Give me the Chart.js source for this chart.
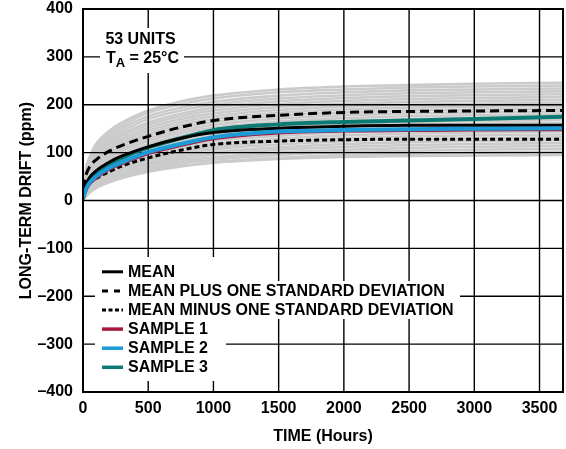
<!DOCTYPE html>
<html>
<head>
<meta charset="utf-8">
<script src="https://cdn.jsdelivr.net/npm/chart.js@4/dist/chart.umd.min.js"></script>
<style>
html,body{margin:0;padding:0;background:#fff;}
#wrap{width:566px;height:449px;}
</style>
</head>
<body>
<div id="wrap"><canvas id="c" width="566" height="449"></canvas></div>
<script>
// ---- data ----
const times = [0, 25, 50, 100, 200, 300, 500, 750, 1000, 1500, 2000, 2500, 3000, 3680];
const meanDrift  = [10, 35, 48, 62, 80, 93, 112, 130, 142, 151, 155, 157, 157, 157];
const plusSD     = [25, 55, 70, 85, 103, 115, 134, 153, 167, 178, 184, 186, 187, 188];
const minusSD    = [5, 25, 35, 46, 60, 72, 89, 105, 117, 124, 127, 128, 128, 128];
const sample1    = [3, 22, 34, 47, 65, 77, 98, 115, 129, 141, 145, 146, 147, 148];
const sample2    = [5, 25, 37, 50, 68, 80, 101, 118, 132, 144, 147, 149, 150, 151];
const sample3    = [8, 30, 42, 57, 75, 89, 111, 130, 147, 159, 164, 167, 170, 175];
const grayUnits = [
  [20, 70, 90, 118, 145, 163, 188, 207, 219, 232, 238, 241, 244, 246],
  [18, 65, 86, 112, 140, 157, 183, 201, 213, 226, 232, 236, 238, 240],
  [15, 60, 80, 106, 134, 151, 176, 194, 206, 219, 226, 230, 232, 234],
  [15, 56, 76, 101, 128, 145, 170, 188, 200, 213, 220, 224, 226, 228],
  [12, 52, 72, 96, 122, 139, 163, 181, 194, 207, 214, 218, 220, 222],
  [12, 50, 68, 92, 118, 134, 158, 176, 188, 201, 208, 212, 214, 216],
  [10, 46, 64, 87, 112, 128, 152, 170, 182, 195, 202, 206, 208, 210],
  [10, 44, 61, 83, 107, 123, 146, 164, 176, 189, 196, 200, 202, 204],
  [8, 41, 58, 79, 102, 118, 140, 158, 170, 183, 190, 194, 196, 198],
  [8, 39, 55, 75, 98, 113, 135, 152, 164, 177, 184, 188, 190, 192],
  [7, 37, 52, 71, 93, 108, 129, 146, 158, 171, 178, 182, 184, 186],
  [7, 35, 49, 68, 89, 103, 124, 141, 152, 165, 172, 176, 178, 180],
  [6, 33, 46, 64, 85, 98, 118, 135, 146, 159, 166, 170, 172, 174],
  [6, 31, 44, 61, 81, 94, 113, 129, 141, 153, 160, 164, 166, 168],
  [5, 29, 41, 57, 77, 89, 108, 124, 135, 147, 154, 158, 160, 162],
  [5, 27, 39, 54, 73, 85, 103, 118, 129, 141, 148, 152, 154, 156],
  [4, 25, 36, 51, 69, 80, 98, 113, 124, 135, 142, 146, 148, 150],
  [4, 23, 34, 48, 65, 76, 93, 108, 118, 129, 136, 140, 142, 144],
  [3, 21, 31, 45, 61, 72, 88, 102, 112, 123, 130, 134, 136, 138],
  [3, 19, 29, 42, 57, 68, 83, 97, 107, 117, 124, 128, 130, 132],
  [2, 17, 27, 39, 53, 64, 78, 92, 101, 111, 118, 122, 124, 126],
  [2, 15, 25, 36, 50, 60, 74, 87, 96, 106, 112, 116, 118, 120],
  [2, 14, 23, 33, 46, 56, 69, 82, 90, 100, 106, 110, 112, 114],
  [1, 12, 21, 30, 43, 52, 65, 77, 85, 95, 101, 104, 106, 108],
  [1, 10, 18, 27, 39, 48, 61, 72, 80, 89, 95, 98, 100, 102],
  [0, 9, 16, 26, 38, 47, 60, 71, 79, 87, 91, 93, 94, 95]
];
const xTickValues = [0, 500, 1000, 1500, 2000, 2500, 3000, 3500];
const yTickValues = [-400, -300, -200, -100, 0, 100, 200, 300, 400];
const legendLabels = ['MEAN', 'MEAN PLUS ONE STANDARD DEVIATION', 'MEAN MINUS ONE STANDARD DEVIATION', 'SAMPLE 1', 'SAMPLE 2', 'SAMPLE 3'];
const unitsNote = '53 UNITS';
const xTitle = 'TIME (Hours)';
const yTitle = 'LONG-TERM DRIFT (ppm)';

// ---- styles ----
const FONT = '"Liberation Sans", Arial, Helvetica, sans-serif';
const C_RED = '#a6193c', C_BLUE = '#1a9ad6', C_TEAL = '#0b7a72', C_GRAY = '#cbcbcb';
const GRAY_ORDER = 10;

function pts(arr){ return times.map((t,i)=>({x:t, y:arr[i]})); }

const datasets = [];
datasets.push({label: legendLabels[4], data: pts(sample2), borderColor: C_BLUE, borderWidth: 4, order: 1});
datasets.push({label: legendLabels[3], data: pts(sample1), borderColor: C_RED, borderWidth: 3, order: 2});
datasets.push({label: legendLabels[0], data: pts(meanDrift), borderColor: '#000', borderWidth: 3, order: 3});
datasets.push({label: legendLabels[5], data: pts(sample3), borderColor: C_TEAL, borderWidth: 4, order: 4});
datasets.push({label: legendLabels[1], data: pts(plusSD), borderColor: '#000', borderWidth: 3, borderDash: [9,5], order: 5});
datasets.push({label: legendLabels[2], data: pts(minusSD), borderColor: '#000', borderWidth: 3, borderDash: [5,3], order: 6});
grayUnits.forEach((g,i)=>datasets.push({label: 'unit '+(i+1), data: pts(g), borderColor: C_GRAY, borderWidth: 2.6, order: GRAY_ORDER}));
datasets.forEach(d=>{ d.pointRadius = 0; d.fill = false; d.cubicInterpolationMode = 'monotone'; d.borderCapStyle='butt'; });

// grid lines drawn from the library's scales, above the gray unit traces
let gridDone = false;
function drawGrid(chart){
  const ctx = chart.ctx, a = chart.chartArea, xs = chart.scales.x, ys = chart.scales.y;
  ctx.save();
  ctx.strokeStyle = '#000';
  ctx.lineWidth = 1.4;
  ctx.beginPath();
  xTickValues.forEach(v=>{ const p = xs.getPixelForValue(v); ctx.moveTo(p, a.top); ctx.lineTo(p, a.bottom); });
  yTickValues.forEach(v=>{ const p = ys.getPixelForValue(v); ctx.moveTo(a.left, p); ctx.lineTo(a.right, p); });
  ctx.stroke();
  ctx.restore();
}

const overlay = {
  id: 'overlay',
  beforeDraw(){ gridDone = false; },
  beforeDatasetDraw(chart, args){
    const ds = chart.data.datasets[args.index];
    if (!gridDone && ds.order !== GRAY_ORDER){ drawGrid(chart); gridDone = true; }
  },
  afterDatasetsDraw(chart){ if (!gridDone){ drawGrid(chart); gridDone = true; } },
  afterDraw(chart){
    const ctx = chart.ctx;
    const a = chart.chartArea;
    ctx.save();
    // white boxes behind note and legend
    ctx.fillStyle = '#fff';
    ctx.fillRect(100, 28, 84, 45);
    ctx.fillRect(95, 257, 131, 124);
    ctx.fillRect(95, 281, 365, 38);
    // note text
    ctx.fillStyle = '#000';
    ctx.font = 'bold 16px ' + FONT;
    ctx.textBaseline = 'alphabetic';
    ctx.textAlign = 'center';
    ctx.fillText(unitsNote, 140.5, 44);
    ctx.textAlign = 'left';
    const p1 = 'T', p2 = 'A', p3 = ' = 25°C';
    ctx.font = 'bold 16px ' + FONT;
    const w1 = ctx.measureText(p1).width, w3 = ctx.measureText(p3).width;
    ctx.font = 'bold 13px ' + FONT;
    const w2 = ctx.measureText(p2).width;
    let x0 = 142.5 - (w1 + w2 + w3)/2;
    ctx.font = 'bold 16px ' + FONT;
    ctx.fillText(p1, x0, 63);
    ctx.font = 'bold 13px ' + FONT;
    ctx.fillText(p2, x0 + w1, 67);
    ctx.font = 'bold 16px ' + FONT;
    ctx.fillText(p3, x0 + w1 + w2, 63);
    // legend
    const styles = [
      {c:'#000', d:[], w:3}, {c:'#000', d:[6,6], w:3}, {c:'#000', d:[4,2.5], w:3},
      {c:C_RED, d:[], w:3.5}, {c:C_BLUE, d:[], w:3.5}, {c:C_TEAL, d:[], w:3.5}
    ];
    ctx.textBaseline = 'middle';
    legendLabels.forEach((lab,i)=>{
      const y = 271.8 + i*19.1;
      ctx.beginPath();
      ctx.setLineDash(styles[i].d);
      ctx.strokeStyle = styles[i].c;
      ctx.lineWidth = styles[i].w;
      ctx.moveTo(102, y); ctx.lineTo(123, y);
      ctx.stroke();
      ctx.setLineDash([]);
      ctx.fillStyle = '#000';
      ctx.font = 'bold 16px ' + FONT;
      ctx.fillText(lab, 128, y + 0.5);
    });
    // frame
    ctx.strokeStyle = '#000';
    ctx.lineWidth = 2;
    ctx.strokeRect(a.left, a.top, a.right - a.left, a.bottom - a.top);
    ctx.restore();
  }
};

new Chart(document.getElementById('c'), {
  type: 'line',
  data: { datasets },
  options: {
    responsive: false,
    animation: false,
    events: [],
    layout: { padding: { top: 9, right: 3, left: 0, bottom: 0 } },
    plugins: { legend: { display: false }, tooltip: { enabled: false } },
    scales: {
      x: {
        type: 'linear', min: 0, max: 3680,
        afterBuildTicks: s => { s.ticks = xTickValues.map(v=>({value:v})); },
        afterFit: s => { s.height = 57; s.paddingLeft = 0; s.paddingRight = 0; },
        grid: { display: false, drawTicks: false },
        border: { display: false },
        ticks: { color: '#000', font: { family: FONT, size: 16, weight: 'bold' }, padding: 7, maxRotation: 0, autoSkip: false,
          callback: v => String(v) },
        title: { display: true, text: xTitle, color: '#000', font: { family: FONT, size: 16, weight: 'bold' }, padding: { top: 4, bottom: 3 } }
      },
      y: {
        type: 'linear', min: -400, max: 400,
        afterBuildTicks: s => { s.ticks = yTickValues.map(v=>({value:v})); },
        afterFit: s => { s.width = 83; s.paddingTop = 0; s.paddingBottom = 0; },
        grid: { display: false, drawTicks: false },
        border: { display: false },
        ticks: { color: '#000', font: { family: FONT, size: 16, weight: 'bold' }, padding: 10, autoSkip: false,
          callback: v => v < 0 ? '\u2013' + Math.abs(v) : String(v) },
        title: { display: true, text: yTitle, color: '#000', font: { family: FONT, size: 16, weight: 'bold' }, padding: { top: 17, bottom: 4 } }
      }
    }
  },
  plugins: [overlay]
});
</script>
</body>
</html>
